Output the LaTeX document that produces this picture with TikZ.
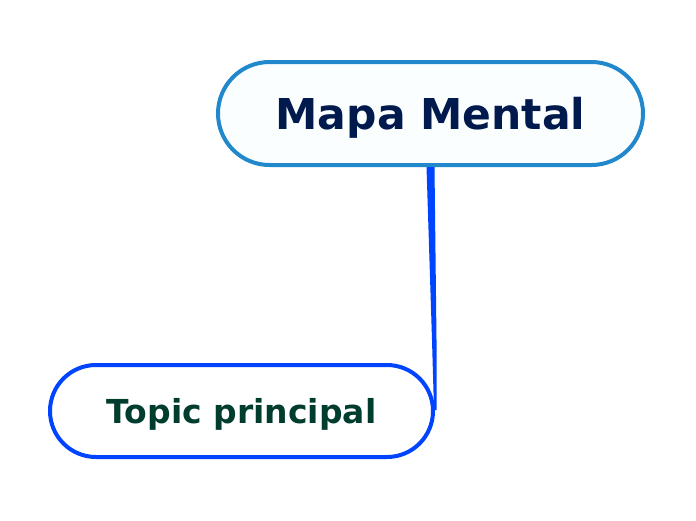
\documentclass[tikz,border=0pt]{standalone}
\usepackage{fontspec}
\setmainfont{DejaVu Sans}
\usetikzlibrary{shapes.misc}
\definecolor{rootline}{HTML}{2288CC}
\definecolor{rootfill}{HTML}{FBFEFF}
\definecolor{roottext}{HTML}{001A4D}
\definecolor{topline}{HTML}{0044FF}
\definecolor{toptext}{HTML}{003D2E}
\tikzset{
  rootbox/.style={rounded rectangle, draw=rootline, fill=rootfill, line width=4pt, minimum width=425pt, minimum height=103pt, inner sep=0pt},
  topicbox/.style={rounded rectangle, draw=topline, fill=white, line width=4pt, minimum width=383pt, minimum height=92pt, inner sep=0pt},
  roottxt/.style={text=roottext, font=\fontsize{42.5}{42.5}\selectfont\bfseries},
  topictxt/.style={text=toptext, font=\fontsize{33}{33}\selectfont\bfseries}
}
\begin{document}
\begin{tikzpicture}[x=1pt,y=-1pt]
\useasboundingbox (0,0) rectangle (696,520);
\node[rootbox] (root) at (430.5,113.5) {};
\node[roottxt] (roottitle) at (430.5,118) {Mapa Mental};
\node[topicbox] (topic) at (241.5,411) {};
\node[topictxt] (topictitle) at (241.5,414) {Topic principal};
\fill[topline] ([xshift=-4pt]root.south) -- ([xshift=4pt]root.south) -- (436.5,340) -- (436.5,410) -- (434,410) -- (432,340) -- cycle;
\end{tikzpicture}
\end{document}
